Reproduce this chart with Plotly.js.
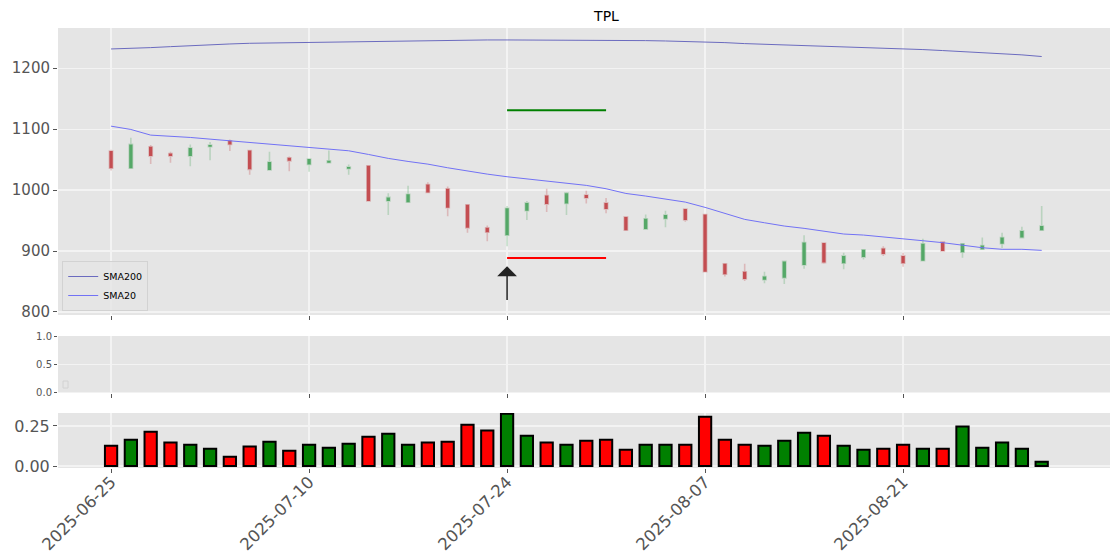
<!DOCTYPE html>
<html>
<head>
<meta charset="utf-8">
<script src="https://cdn.plot.ly/plotly-3.0.1.min.js"></script>
<style>html,body{margin:0;padding:0;background:#fff;}#chart{width:1120px;height:560px;}</style>
</head>
<body>
<div id="chart"></div>
<script>
const dates = ["2025-06-25","2025-06-26","2025-06-27","2025-06-30","2025-07-01","2025-07-02","2025-07-03","2025-07-07","2025-07-08","2025-07-09",
"2025-07-10","2025-07-11","2025-07-14","2025-07-15","2025-07-16","2025-07-17","2025-07-18","2025-07-21","2025-07-22","2025-07-23",
"2025-07-24","2025-07-25","2025-07-28","2025-07-29","2025-07-30","2025-07-31","2025-08-01","2025-08-04","2025-08-05","2025-08-06",
"2025-08-07","2025-08-08","2025-08-11","2025-08-12","2025-08-13","2025-08-14","2025-08-15","2025-08-18","2025-08-19","2025-08-20",
"2025-08-21","2025-08-22","2025-08-25","2025-08-26","2025-08-27","2025-08-28","2025-08-29","2025-09-02"];
const openP  = [1064,1036,1071,1060,1056,1071,1081,1065,1033,1053,1042,1045,1035,1040,982,980,1009,1002,976,938,926,966,991,978,992,979,956,936,953,969,960,879,866,853,856,877,913,880,890,904,892,884,915,898,903,912,922,934];
const highP  = [1066,1086,1074,1063,1075,1079,1083,1066,1063,1055,1051,1065,1042,1040,995,1007,1013,1006,976,942,974,982,1002,997,999,987,956,960,966,969,960,880,879,866,883,926,914,897,902,908,897,920,916,912,922,930,940,974];
const lowP   = [1032,1036,1043,1045,1039,1049,1064,1025,1033,1031,1030,1045,1025,982,959,980,995,957,930,916,908,951,964,959,978,962,934,936,939,948,866,858,851,847,846,871,879,870,886,892,874,884,899,889,903,905,922,934];
const closeP = [1036,1075,1056,1056,1069,1074,1075,1034,1046,1048,1051,1048,1038,982,988,993,996,971,938,931,970,979,977,995,987,969,934,953,959,951,866,862,854,858,883,914,881,892,902,895,880,912,900,912,909,922,933,941];
const sma200 = [1231.6,1232.1,1233.8,1235.4,1237.1,1238.2,1239.8,1240.9,1241.4,1242.5,1243.1,1243.6,1243.6,1244.2,1244.7,1245.4,1245.3,1245.9,1246.4,1246.4,1246.4,1246.4,1246.4,1246.4,1246.4,1245.9,1245.3,1245.3,1244.7,1244.2,1243.1,1242.0,1240.4,1239.3,1238.8,1238.2,1237.1,1235.4,1234.4,1233.3,1232.3,1230.6,1229.0,1227.3,1225.7,1224.0,1221.9,1219.2];
const sma20  = [1104.9,1099.5,1090.2,1088.5,1086.4,1083.6,1080.8,1077.6,1074.9,1072.6,1070.0,1067.5,1064.5,1058.5,1052.0,1047.0,1042.6,1036.6,1031.1,1026.2,1021.9,1018.5,1015.3,1011.0,1007.7,1002.2,994.5,990.2,985.8,980.3,971.6,961.8,951.9,946.4,941.0,937.2,932.3,927.9,926.2,923.4,920.2,916.9,913.7,909.3,905.4,902.8,902.8,901.1];
const volume = [0.127,0.164,0.214,0.146,0.133,0.108,0.058,0.121,0.152,0.096,0.133,0.114,0.139,0.183,0.202,0.133,0.146,0.152,0.258,0.221,0.327,0.189,0.146,0.133,0.158,0.164,0.102,0.133,0.133,0.133,0.308,0.164,0.133,0.127,0.158,0.208,0.189,0.127,0.102,0.108,0.133,0.108,0.108,0.246,0.114,0.146,0.108,0.027];
// signal: entry at index 20, levels drawn to index 25
const signalStart = 20, signalEnd = 25;
const targetLevel = 1131, stopLevel = 888.5;
const arrowTip = 875, arrowTail = 817;
const tickIdx = [0,10,20,30,40];

const xs = dates.map((d,i)=>i);
const volColors = closeP.map((c,i)=> c >= openP[i] ? '#008000' : '#ff0000');

const traces = [
  {type:'candlestick', x:xs, open:openP, high:highP, low:lowP, close:closeP,
   xaxis:'x', yaxis:'y', showlegend:false, whiskerwidth:0,
   increasing:{line:{color:'rgba(85,168,104,0.3)', width:1.6}, fillcolor:'#55a868'},
   decreasing:{line:{color:'rgba(196,78,82,0.3)', width:1.6}, fillcolor:'#c44e52'},
   hoverinfo:'skip'},
  {type:'scatter', mode:'lines', x:xs, y:sma200, name:'SMA200', xaxis:'x', yaxis:'y',
   line:{color:'#6b6bbf', width:1}},
  {type:'scatter', mode:'lines', x:xs, y:sma20, name:'SMA20', xaxis:'x', yaxis:'y',
   line:{color:'#7272f5', width:1}},
  {type:'scatter', mode:'lines', x:[signalStart, signalEnd], y:[targetLevel,targetLevel], xaxis:'x', yaxis:'y',
   showlegend:false, line:{color:'#008000', width:2}},
  {type:'scatter', mode:'lines', x:[signalStart, signalEnd], y:[stopLevel,stopLevel], xaxis:'x', yaxis:'y',
   showlegend:false, line:{color:'#ff0000', width:2}},
  {type:'scatter', mode:'lines', x:[null], y:[null], xaxis:'x2', yaxis:'y2', showlegend:false},
  {type:'bar', x:xs, y:volume, xaxis:'x3', yaxis:'y3', showlegend:false, width:0.62,
   marker:{color:volColors, line:{color:'#000000', width:2}}}
];

const xr = [-2.68, 50.45];
const tickFont = {family:'DejaVu Sans, sans-serif', size:16.5, color:'#555555'};
function xax(anchor, labels){
  return {domain:[0,1], anchor:anchor, range:xr, tickmode:'array', tickvals:tickIdx,
    ticktext: tickIdx.map(i=>dates[i]), showticklabels:labels, tickangle:-45,
    tickfont:tickFont, ticks:'outside', ticklen:4, tickcolor:'#555555', ticklabelstandoff:-7,
    showgrid:true, gridcolor:'#f3f3f3', gridwidth:1.2, zeroline:false, showline:false,
    rangeslider:{visible:false}, fixedrange:true};
}
const layout = {
  width:1120, height:560,
  margin:{l:58, r:10, t:28, b:92},
  paper_bgcolor:'#ffffff', plot_bgcolor:'#e5e5e5',
  boxgap:0.76,
  bargap:0,
  title:{text:'TPL', x:0.5214, xref:'paper', xanchor:'center', y:1-16/560, yref:'container', yanchor:'middle',
         font:{family:'DejaVu Sans, sans-serif', size:14, color:'#000000'}},
  showlegend:true,
  legend:{x:0.004, y:(468-311)/440, xanchor:'left', yanchor:'bottom', xref:'paper', yref:'paper',
          bgcolor:'rgba(229,229,229,0.85)', bordercolor:'#d2d2d2', borderwidth:1,
          font:{family:'DejaVu Sans, sans-serif', size:9.5, color:'#000'}, itemwidth:30, tracegroupgap:0},
  xaxis: xax('y', false),
  xaxis2: xax('y2', false),
  xaxis3: xax('y3', true),
  yaxis:{domain:[(468-315)/440, 1], anchor:'x', range:[795,1266], tickvals:[800,900,1000,1100,1200],
    tickfont:{family:'DejaVu Sans, sans-serif', size:15, color:'#555555'}, ticks:'outside', ticklen:4, tickcolor:'#555555',
    gridcolor:'#f3f3f3', gridwidth:1.2, zeroline:false, fixedrange:true},
  yaxis2:{domain:[(468-392.5)/440, (468-336)/440], anchor:'x2', range:[0,1], tickvals:[0,0.5,1],
    ticktext:['0.0','0.5','1.0'],
    tickfont:{family:'DejaVu Sans, sans-serif', size:10, color:'#555555'}, ticks:'outside', ticklen:3, tickcolor:'#555555',
    gridcolor:'#f3f3f3', gridwidth:1.2, zeroline:false, fixedrange:true},
  yaxis3:{domain:[0, (468-413)/440], anchor:'x3', range:[-0.0125,0.331], tickvals:[0,0.25], ticktext:['0.00','0.25'],
    tickfont:{family:'DejaVu Sans, sans-serif', size:16, color:'#555555'}, ticks:'outside', ticklen:4, tickcolor:'#555555',
    gridcolor:'#f3f3f3', gridwidth:1.2, zeroline:false, fixedrange:true},
  annotations:[{x:signalStart, y:arrowTip, ax:signalStart, ay:arrowTail, xref:'x', yref:'y', axref:'x', ayref:'y',
    showarrow:true, arrowhead:1, arrowsize:2.2, arrowwidth:1.5, arrowcolor:'#222222', text:''}],
  shapes:[{type:'rect', xref:'paper', yref:'paper', x0:5/1052, x1:10/1052, y0:(468-388)/440, y1:(468-381)/440,
    line:{color:'#d2d2d2', width:1}, fillcolor:'rgba(229,229,229,0.8)'}]
};
Plotly.newPlot('chart', traces, layout, {displayModeBar:false, staticPlot:true});
</script>
</body>
</html>
